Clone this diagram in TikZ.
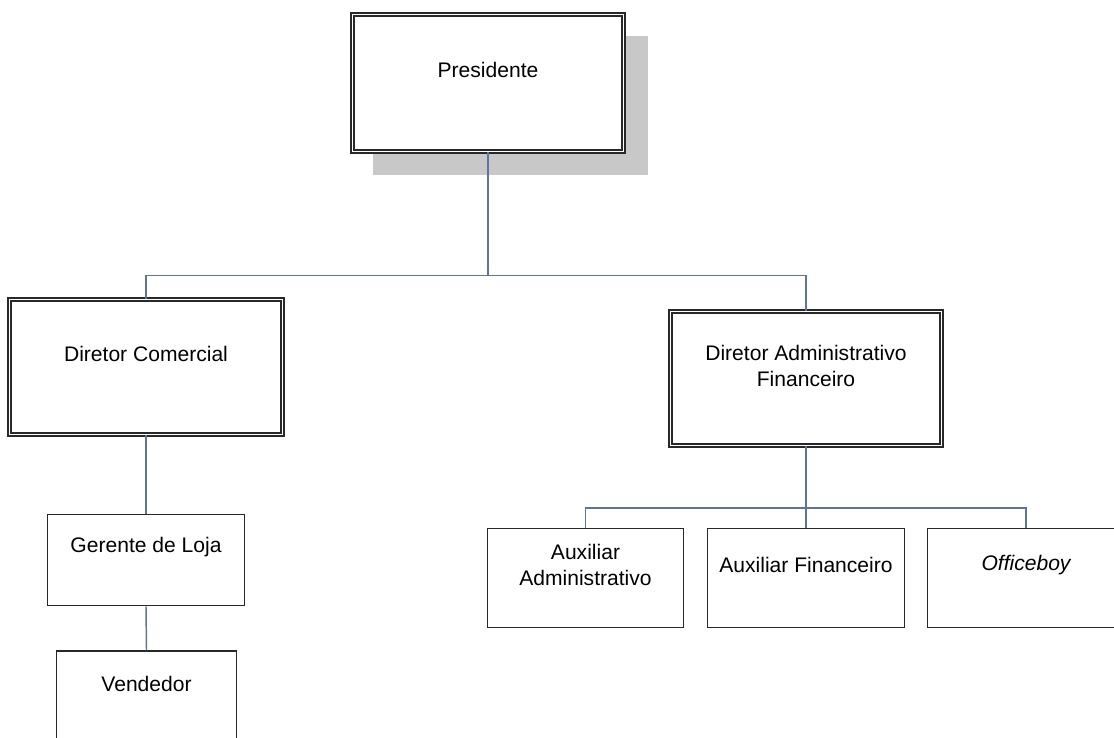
\documentclass[tikz,border=0pt]{standalone}
\usepackage{fontspec}
\setmainfont{Liberation Sans}
\usepackage{tikz}
\usetikzlibrary{positioning}
\tikzstyle{chart} = [x = 0.75pt, y = -0.75pt]
\definecolor{lineColor}{RGB}{96,114,158}
\definecolor{shadowColor}{RGB}{200,200,200}
\definecolor{boxColor}{RGB}{40,40,40}
\tikzstyle{headBox} = [draw=boxColor, fill=white, double=white, line width=1.2pt, double distance=1.2pt]
\tikzstyle{staffBox} = [draw=boxColor, fill=white, line width=1.4pt]
\tikzstyle{boxText} = [font=\fontsize{15.8}{19.5}\selectfont, align=center, inner sep=0pt]
\tikzstyle{connLine} = [color=lineColor, line width=1.1pt]
\tikzstyle{shadowStyle} = [fill=shadowColor, draw=none]
\newcommand{\px}{0.75pt}
\newcommand{\orgBox}[7]{
  \node [#2, minimum width=#5*\px, minimum height=#6*\px, inner sep=0pt] (#1) at (#3,#4) {};
  \node [boxText] (#1Text) at ([yshift=13*\px]#1.center) {#7};
}

\begin{document}
\begin{tikzpicture}[chart]
  \useasboundingbox (0,0) rectangle (1114,738);
  \clip (0,0) rectangle (1114,738);

  % top
  \filldraw [shadowStyle] (373,36) rectangle (648,175);
  \orgBox{presidente}{headBox}{488}{83}{271}{137}{Presidente}

  % directors
  \orgBox{dirCom}{headBox}{146}{367}{273}{135}{Diretor Comercial}
  \orgBox{dirAdm}{headBox}{806}{378.5}{271}{134}{Diretor Administrativo\\Financeiro}

  % staff
  \orgBox{gerente}{staffBox}{146}{560}{197}{91}{Gerente de Loja}
  \orgBox{vendedor}{staffBox}{146.5}{697}{180}{92}{Vendedor}
  \orgBox{auxAdm}{staffBox}{585.5}{578}{196}{99}{Auxiliar\\Administrativo}
  \orgBox{auxFin}{staffBox}{806}{578}{197}{99}{Auxiliar Financeiro}
  \orgBox{office}{staffBox}{1026}{578}{197}{99}{\itshape Officeboy}

  \coordinate (topBar) at (0,275.5);
  \coordinate (admBar) at (0,508);

  \draw [connLine] (presidente.south) -- (presidente.south |- topBar) -| (dirCom.north);
  \draw [connLine] (presidente.south |- topBar) -| (dirAdm.north);
  \draw [connLine] (dirCom.south) -- (gerente.north);
  \draw [connLine] (gerente.south) -- (vendedor.north);
  \draw [connLine] (dirAdm.south) -- (auxFin.north);
  \draw [connLine] (auxAdm.north) |- (admBar -| dirAdm.south) -| (office.north);
\end{tikzpicture}
\end{document}
